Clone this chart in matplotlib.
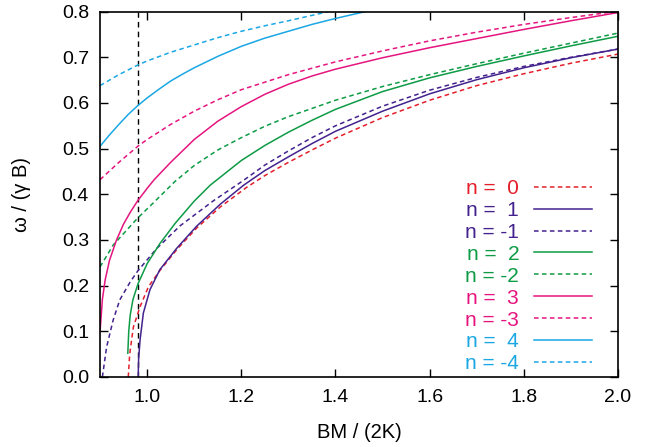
import matplotlib
matplotlib.use('Agg')
import matplotlib.pyplot as plt

plt.rcParams['font.family'] = ['Liberation Sans', 'DejaVu Sans']

# valores: x = BM/(2K), y = w/(gamma B)
x_n0 = [0.960, 0.963, 0.967, 0.971, 0.985, 1.003, 1.027, 1.063, 1.105, 1.155, 1.211, 1.25, 1.3, 1.35, 1.4, 1.5, 1.6, 1.7, 1.8, 1.9, 2.0]
y_n0 = [0.0, 0.050, 0.081, 0.110, 0.154, 0.198, 0.233, 0.279, 0.326, 0.372, 0.415, 0.441, 0.470, 0.497, 0.523, 0.568, 0.606, 0.638, 0.664, 0.687, 0.707]

x_n1 = [0.981, 0.982, 0.985, 0.992, 1.006, 1.027, 1.063, 1.105, 1.155, 1.205, 1.25, 1.3, 1.35, 1.4, 1.5, 1.6, 1.7, 1.8, 1.9, 2.0]
y_n1 = [0.0, 0.040, 0.081, 0.140, 0.191, 0.235, 0.282, 0.330, 0.378, 0.420, 0.452, 0.482, 0.511, 0.538, 0.582, 0.620, 0.651, 0.677, 0.699, 0.718]

x_nm1 = [0.905, 0.914, 0.928, 0.942, 0.964, 0.980, 1.020, 1.070, 1.141, 1.204, 1.25, 1.3, 1.35, 1.4, 1.5, 1.6, 1.7, 1.8, 1.9, 2.0]
y_nm1 = [0.0, 0.066, 0.125, 0.169, 0.208, 0.232, 0.281, 0.331, 0.386, 0.430, 0.464, 0.495, 0.524, 0.550, 0.593, 0.628, 0.656, 0.680, 0.700, 0.718]

x_n2 = [0.959, 0.961, 0.964, 0.970, 0.981, 1.0, 1.027, 1.06, 1.1, 1.134, 1.2, 1.25, 1.3, 1.35, 1.4, 1.5, 1.6, 1.7, 1.8, 1.9, 2.0]
y_n2 = [0.052, 0.100, 0.135, 0.170, 0.205, 0.248, 0.292, 0.337, 0.385, 0.420, 0.474, 0.507, 0.536, 0.562, 0.586, 0.625, 0.655, 0.680, 0.703, 0.725, 0.746]

x_nm2 = [0.9, 0.928, 0.957, 0.980, 1.013, 1.059, 1.1, 1.15, 1.2, 1.25, 1.3, 1.4, 1.5, 1.6, 1.7, 1.8, 1.9, 2.0]
y_nm2 = [0.241, 0.289, 0.322, 0.348, 0.381, 0.428, 0.463, 0.497, 0.524, 0.549, 0.570, 0.606, 0.636, 0.662, 0.686, 0.709, 0.731, 0.753]

x_n3 = [0.9, 0.905, 0.911, 0.920, 0.935, 0.950, 0.965, 0.980, 1.0, 1.015, 1.05, 1.1, 1.15, 1.2, 1.25, 1.3, 1.35, 1.4, 1.5, 1.6, 1.7, 1.8, 1.9, 2.0]
y_n3 = [0.099, 0.170, 0.213, 0.255, 0.300, 0.335, 0.362, 0.386, 0.413, 0.432, 0.470, 0.520, 0.560, 0.592, 0.619, 0.641, 0.659, 0.674, 0.699, 0.721, 0.741, 0.761, 0.780, 0.798]

x_nm3 = [0.9, 0.94, 0.98, 1.0, 1.05, 1.1, 1.15, 1.2, 1.3, 1.4, 1.5, 1.6, 1.7, 1.8, 1.9, 2.0]
y_nm3 = [0.432, 0.470, 0.505, 0.520, 0.553, 0.582, 0.607, 0.629, 0.662, 0.690, 0.714, 0.736, 0.755, 0.772, 0.787, 0.801]

x_n4 = [0.9, 0.92, 0.94, 0.96, 0.98, 1.0, 1.025, 1.05, 1.075, 1.1, 1.15, 1.2, 1.25, 1.3, 1.35, 1.4, 1.463]
y_n4 = [0.505, 0.530, 0.553, 0.575, 0.594, 0.611, 0.630, 0.648, 0.663, 0.677, 0.702, 0.724, 0.742, 0.757, 0.772, 0.785, 0.800]

x_nm4 = [0.9, 0.94, 0.98, 1.0, 1.05, 1.1, 1.15, 1.2, 1.25, 1.3, 1.385]
y_nm4 = [0.638, 0.662, 0.683, 0.692, 0.711, 0.727, 0.743, 0.757, 0.769, 0.780, 0.800]

x_corte = 0.98

rojo = '#e41e2b'
morado = '#43228e'
verde = '#0d9b45'
magenta = '#e5157f'
azul = '#1aa7e4'

fig = plt.figure(figsize=(6.47, 4.47), dpi=100)
ax = fig.add_axes([0.1546, 0.1566, 0.8006, 0.8174])

# linea vertical punteada
ax.axvline(x_corte, color='black', lw=1.0, ls=(0, (4, 3)))

guion = (0, (3, 2.2))
lw = 1.1
ax.plot(x_n0, y_n0, color=rojo, lw=lw, ls=guion, label='n =  0')
ax.plot(x_n1, y_n1, color=morado, lw=lw, label='n =  1')
ax.plot(x_nm1, y_nm1, color=morado, lw=lw, ls=guion, label='n = -1')
ax.plot(x_n2, y_n2, color=verde, lw=lw, label='n =  2')
ax.plot(x_nm2, y_nm2, color=verde, lw=lw, ls=guion, label='n = -2')
ax.plot(x_n3, y_n3, color=magenta, lw=lw, label='n =  3')
ax.plot(x_nm3, y_nm3, color=magenta, lw=lw, ls=guion, label='n = -3')
ax.plot(x_n4, y_n4, color=azul, lw=lw, label='n =  4')
ax.plot(x_nm4, y_nm4, color=azul, lw=lw, ls=guion, label='n = -4')

ax.set_xlim(0.9, 2.0)
ax.set_ylim(0.0, 0.8)
ax.set_xticks([1.0, 1.2, 1.4, 1.6, 1.8, 2.0])
ax.set_yticks([0.0, 0.1, 0.2, 0.3, 0.4, 0.5, 0.6, 0.7, 0.8])
ax.xaxis.set_major_formatter(matplotlib.ticker.FormatStrFormatter('%.1f'))
ax.yaxis.set_major_formatter(matplotlib.ticker.FormatStrFormatter('%.1f'))
ax.tick_params(direction='in', top=True, right=True, length=6, width=1, labelsize=14)
ax.tick_params(axis='x', pad=9)
ax.tick_params(axis='y', pad=8)
for s in ax.spines.values():
    s.set_linewidth(1.2)

ax.set_xlabel('BM / (2K)', fontsize=14.5, labelpad=12)
ax.set_ylabel('ω / (γ B)', fontsize=14.5, labelpad=22)

leg = ax.legend(loc='lower right', bbox_to_anchor=(0.950, 0.01), frameon=False, markerfirst=False,
                labelcolor='linecolor', fontsize=15, handlelength=2.8, handletextpad=0.7,
                labelspacing=0.14, borderpad=0, borderaxespad=0)

plt.savefig('out.png', dpi=100)
